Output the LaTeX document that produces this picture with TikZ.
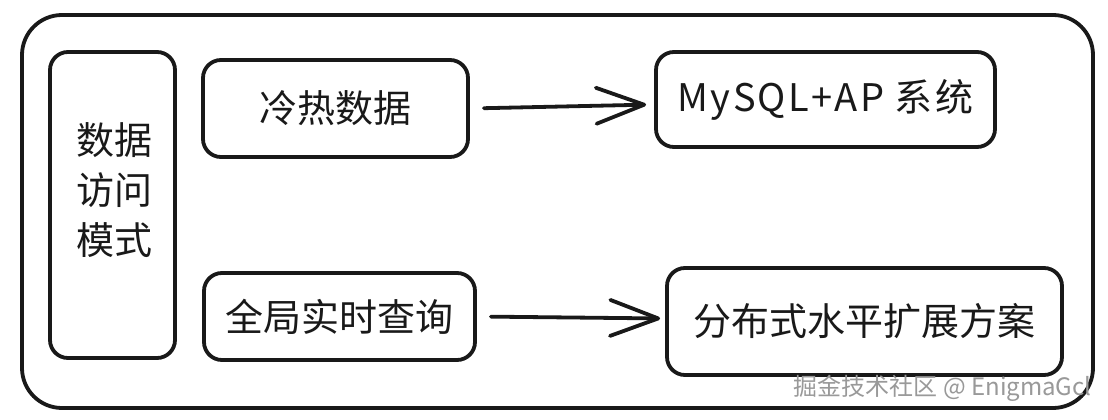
\documentclass[tikz,border=0pt]{standalone}
\usepackage{fontspec}
\setmainfont{Noto Sans CJK SC}
\usetikzlibrary{arrows.meta}
\tikzset{
  box/.style={draw=black!90, line width=3.8pt, rounded corners=18pt, inner sep=0pt, fill=white},
  lbl/.style={font=\fontsize{38}{50}\selectfont, text=black!90},
  conn/.style={draw=black!90, line width=3.8pt, line cap=round, -{Straight Barb[length=48pt,width=36pt,line width=3.8pt,round]}},
  wmark/.style={font=\fontsize{24}{26}\selectfont, text=black!40}
}
\begin{document}
\begin{tikzpicture}[x=1pt,y=-1pt]
\useasboundingbox (0,0) rectangle (1108,420);
\node[box, rounded corners=40pt, minimum width=1071pt, minimum height=393pt] (outer) at (557.5,211.5) {};
\node[box, minimum width=125pt, minimum height=306pt] (left) at (112.5,205) {};
\node[lbl, align=center] (lefttxt) at (114,190) {数据\\访问\\模式};
\node[box, minimum width=265pt, minimum height=97pt, lbl] (hot) at (335.5,108.5) {冷热数据};
\node[box, minimum width=271pt, minimum height=87pt, lbl] (glob) at (339.5,316.5) {全局实时查询};
\node[box, minimum width=339pt, minimum height=95pt, lbl] (mysql) at (825.5,99.5) {\addfontfeature{LetterSpace=6}MySQL+AP 系统};
\node[box, minimum width=395pt, minimum height=107pt, lbl] (dist) at (864.5,321.5) {分布式水平扩展方案};
\draw[conn, shorten <=14pt, shorten >=8pt] (hot.east) -- ([yshift=-5pt]mysql.west);
\draw[conn, shorten <=14pt, shorten >=5pt] (glob.east) -- ([yshift=3pt]dist.west);
\node[wmark, anchor=east] (wm) at (1095,388) {掘金技术社区 @ EnigmaGcl};
\end{tikzpicture}
\end{document}
